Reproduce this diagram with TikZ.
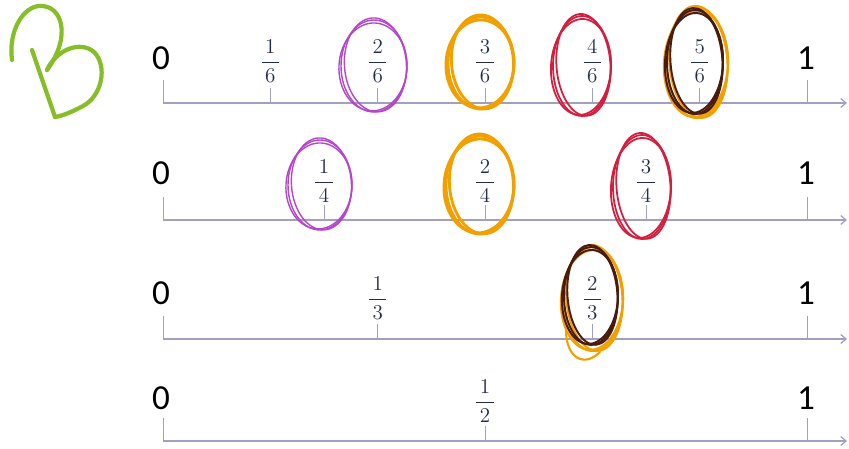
\documentclass[tikz,border=0pt]{standalone}
\usepackage{amsmath}
\usepackage{fontspec}
\newfontfamily\digitfont{Carlito}
\usetikzlibrary{arrows.meta}
\definecolor{lineblue}{RGB}{160,160,192}
\definecolor{fracblue}{RGB}{35,45,75}
\definecolor{penpurple}{RGB}{180,70,205}
\definecolor{penorange}{RGB}{242,160,0}
\definecolor{penred}{RGB}{212,30,62}
\definecolor{penbrown}{RGB}{72,26,16}
\definecolor{pengreen}{RGB}{134,190,40}

\begin{document}
\begin{tikzpicture}[x=0.02cm,y=-0.02cm,
    numline/.style={lineblue,line width=0.7pt,-{Straight Barb[length=3pt,width=5pt]}},
    tickmark/.style={lineblue,line width=0.5pt},
    endlabel/.style={font=\digitfont\fontsize{20}{24}\selectfont},
    fraclabel/.style={font=\fontsize{12.5}{15}\selectfont,text=fracblue},
    pen/.style={line width=#1,line cap=round}]
    \useasboundingbox (0,0) rectangle (849,449);

    % Green letter B
    \draw[pen=2.4pt,pengreen] (32,50) -- (55,117);
    \draw[pen=2.4pt,pengreen] (12,60) .. controls (8,30) and (24,6) .. (40,6)
        .. controls (62,5) and (72,36) .. (47,70);
    \draw[pen=2.4pt,pengreen] (47,70) .. controls (56,50) and (80,40) .. (94,52)
        .. controls (108,66) and (102,96) .. (83,106)
        .. controls (72,112) and (62,116) .. (55,117);

    % Number lines with ticks and labels
    \foreach \r/\yl/\yt/\yf/\n in {1/103/58/61/6, 2/220/173/181/4, 3/339/293/298/3, 4/441/398/401/2} {
        \coordinate (s\r) at (163,\yl);
        \coordinate (e\r) at (847,\yl);
        \draw[numline] (s\r) -- (e\r);
        \draw[tickmark] (s\r) -- ++(0,-23);
        \draw[tickmark] (807,\yl) -- ++(0,-23);
        \node[endlabel] (zero\r) at (161,\yt) {0};
        \node[endlabel] (one\r) at (806,\yt) {1};
        \pgfmathtruncatemacro\m{\n-1}
        \foreach \k in {1,...,\m} {
            \pgfmathsetmacro\xk{163+644*\k/\n}
            \draw[tickmark] (\xk,\yl) -- ++(0,-15);
            \node[fraclabel] (f\r\k) at (\xk,\yf) {$\dfrac{\,\k\,}{\,\n\,}$};
        }
    }

    % Hand-drawn circles round the fractions
    \foreach \cx/\cy/\rx/\ry/\col/\w in {374/66/33/46/penpurple/0.8pt,
            481/63/33/46/penorange/1.6pt, 582/66/29/50/penred/1.0pt,
            697/63/31/55/penorange/1.2pt, 695/62/28/52/penbrown/1.1pt,
            320/185/32/45/penpurple/0.8pt, 480/185/34/49/penorange/1.6pt,
            642/187/29/52/penred/1.0pt,
            593/299/30/52/penorange/1.2pt, 591/296/27/49/penbrown/1.1pt} {
        \draw[pen=\w,\col] (\cx,\cy) ellipse [x radius=\rx, y radius=\ry];
        \draw[pen=\w,\col,rotate around={4:(\cx,\cy)}] (\cx+1.5,\cy-1)
            ellipse [x radius=\rx-2, y radius=\ry+1];
        \draw[pen=\w,\col,rotate around={-3:(\cx,\cy)}] (\cx-1,\cy+1)
            ellipse [x radius=\rx+1, y radius=\ry-2];
    }
    % tail of the orange stroke under 2/3
    \draw[pen=1.2pt,penorange] (566,330) .. controls (566,358) and (584,368) .. (600,352);
\end{tikzpicture}
\end{document}
